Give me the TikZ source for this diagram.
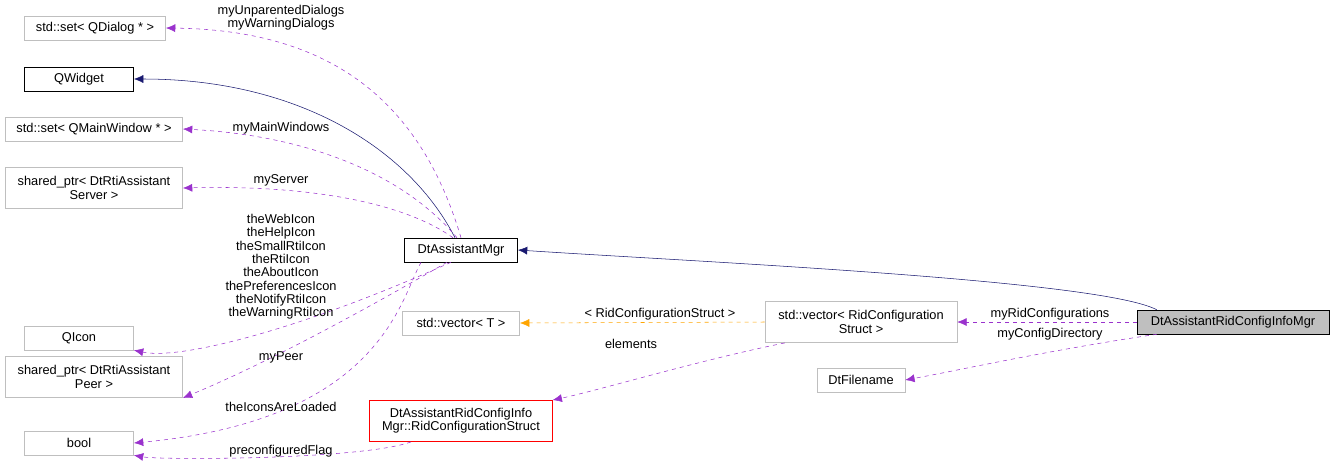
\documentclass[tikz,border=0pt]{standalone}
\usepackage{fontspec}
\setmainfont{Liberation Sans}
\usetikzlibrary{arrows.meta,positioning}
\definecolor{edgepurple}{HTML}{9A32CD}
\definecolor{edgenavy}{HTML}{191970}
\definecolor{edgeorange}{HTML}{FFA500}
\definecolor{boxgray}{HTML}{BFBFBF}

\begin{document}
\begin{tikzpicture}[x=0.75pt, y=-0.75pt,
    every node/.style={font=\fontsize{9.6}{10}\selectfont},
    cls/.style={draw=boxgray, fill=white, inner sep=2pt, align=center, minimum height=18pt},
    mine/.style={cls, draw=black},
    usage/.style={edgepurple, dashed, -{Latex[length=7pt,width=6pt]}},
    inherit/.style={edgenavy, -{Latex[length=7pt,width=6pt]}},
    templ/.style={edgeorange, dashed, -{Latex[length=7pt,width=6pt]}},
    lbl/.style={align=center, inner sep=0pt}]

  \useasboundingbox (0,0) rectangle (1336,469);

  % ---- left column ----
  \node[cls, minimum width=106pt] (dialogset) at (95,28) {std::set< QDialog * >};
  \node[mine, minimum width=82pt] (qwidget) at (79,79) {QWidget};
  \node[cls, minimum width=133pt] (winset) at (94,129) {std::set< QMainWindow * >};
  \node[cls, minimum width=133pt, minimum height=31pt] (server) at (94,188) {shared\_ptr< DtRtiAssistant\\Server >};
  \node[cls, minimum width=82pt] (qicon) at (79,338) {QIcon};
  \node[cls, minimum width=133pt, minimum height=31pt] (peer) at (94,377) {shared\_ptr< DtRtiAssistant\\Peer >};
  \node[cls, minimum width=82pt] (bool) at (79,443) {bool};

  % ---- middle ----
  \node[mine, minimum width=85pt] (assistmgr) at (461,250) {DtAssistantMgr};
  \node[cls, minimum width=88pt] (vectort) at (461,323) {std::vector< T >};
  \node[cls, draw=red, minimum width=137pt, minimum height=31pt] (ridstruct) at (461,421)
    {DtAssistantRidConfigInfo\\Mgr::RidConfigurationStruct};
  \node[cls, minimum width=144pt, minimum height=31pt] (ridvector) at (861,322)
    {std::vector< RidConfiguration\\Struct >};
  \node[cls, minimum width=66pt] (filename) at (861,380) {DtFilename};

  % ---- right ----
  \node[mine, fill=boxgray, minimum width=144pt] (infomgr) at (1233,322) {DtAssistantRidConfigInfoMgr};

  % ---- inheritance ----
  \draw[inherit] (infomgr.north west) ++(20,0) .. controls (1100,280) and (700,262) .. (assistmgr.east);
  \draw[inherit] (assistmgr.north) ++(-6,0) .. controls (410,150) and (300,79) .. (qwidget.east);

  % ---- members of DtAssistantMgr ----
  \draw[usage] (assistmgr.north) .. controls (420,100) and (330,30) .. (dialogset.east);
  \draw[usage] (assistmgr.north) ++(-4,0) .. controls (400,170) and (300,135) .. (winset.east);
  \draw[usage] (assistmgr.north) ++(-8,0) .. controls (400,200) and (300,185) .. (server.east);
  \draw[usage] (assistmgr.south) ++(-10,0) .. controls (300,330) and (180,360) .. (qicon.south east);
  \draw[usage] (assistmgr.south) ++(-14,0) .. controls (330,330) and (250,370) .. (peer.south east);
  \draw[usage] (assistmgr.south) ++(-40,0) .. controls (400,300) and (380,420) .. (bool.east);
  \draw[usage] (ridstruct.south) ++(-50,0) .. controls (360,460) and (160,460) .. (bool.south east);

  \node[lbl] (dialoglbl) at (281,18) {myUnparentedDialogs\\myWarningDialogs};
  \node[lbl] (winlbl) at (281,128) {myMainWindows};
  \node[lbl] (serverlbl) at (281,180) {myServer};
  \node[lbl] (iconlbl) at (281,267) {theWebIcon\\theHelpIcon\\theSmallRtiIcon\\theRtiIcon\\theAboutIcon\\thePreferencesIcon\\theNotifyRtiIcon\\theWarningRtiIcon};
  \node[lbl] (peerlbl) at (281,357) {myPeer};
  \node[lbl] (loadedlbl) at (281,407) {theIconsAreLoaded};
  \node[lbl] (flaglbl) at (281,451) {preconfiguredFlag};

  % ---- right side members ----
  \draw[usage] (infomgr.west) -- (ridvector.east);
  \draw[usage] (infomgr.south west) ++(20,0) .. controls (1050,350) and (960,370) .. (filename.east);
  \draw[templ] (ridvector.west) -- (vectort.east);
  \draw[usage] (ridvector.south west) ++(20,0) .. controls (700,360) and (600,390) .. (ridstruct.north east);

  \node[lbl] (ridlbl) at (1050,314) {myRidConfigurations};
  \node[lbl] (dirlbl) at (1050,334) {myConfigDirectory};
  \node[lbl] (templlbl) at (660,314) {< RidConfigurationStruct >};
  \node[lbl] (elemlbl) at (631,344) {elements};

\end{tikzpicture}
\end{document}
